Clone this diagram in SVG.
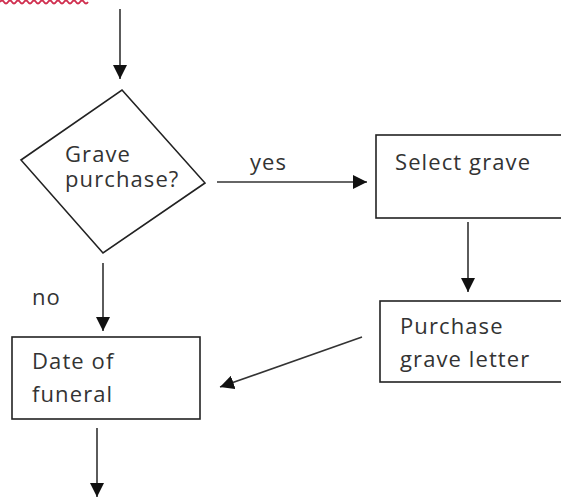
<svg xmlns="http://www.w3.org/2000/svg" width="561" height="497" viewBox="0 0 561 497">
<defs>
<style>
.shape{fill:#fff;stroke:#222;stroke-width:1.6}
.conn{stroke:#333;stroke-width:1.6;fill:none}
.t{font-family:"Open Sans","DejaVu Sans",sans-serif;font-size:22px;letter-spacing:1.1px;fill:#333}
</style>
<marker id="ah" markerUnits="userSpaceOnUse" markerWidth="14" markerHeight="14" viewBox="0 0 14 14" refX="14" refY="7" orient="auto">
<path d="M0,0 L14,7 L0,14 Z" fill="#111"/>
</marker>
</defs>
<rect width="561" height="497" fill="#fff"/>
<path d="M0,2 q2,-3 4,0 t4,0 t4,0 t4,0 t4,0 t4,0 t4,0 t4,0 t4,0 t4,0 t4,0 t4,0 t4,0 t4,0 t4,0 t4,0 t4,0 t4,0 t4,0 t4,0 t4,0 t4,0" fill="none" stroke="#d03050" stroke-width="1.8"/>
<g id="connectors">
<line class="conn" x1="120" y1="9" x2="120" y2="79" marker-end="url(#ah)"/>
<line class="conn" x1="217" y1="182" x2="367" y2="182" marker-end="url(#ah)"/>
<line class="conn" x1="468" y1="222" x2="468" y2="292" marker-end="url(#ah)"/>
<line class="conn" x1="103" y1="263" x2="103" y2="331" marker-end="url(#ah)"/>
<line class="conn" x1="362" y1="337" x2="220" y2="387" marker-end="url(#ah)"/>
<line class="conn" x1="97" y1="428" x2="97" y2="497" marker-end="url(#ah)"/>
<text class="t" x="250" y="170">yes</text>
<text class="t" x="32" y="305">no</text>
</g>
<g id="decision">
<polygon class="shape" points="122,90 205,183 103,253 21,160"/>
<text class="t" x="65" y="162">Grave</text>
<text class="t" x="65" y="187">purchase?</text>
</g>
<g id="select-grave">
<rect class="shape" x="376" y="135" width="200" height="83"/>
<text class="t" x="395" y="170">Select grave</text>
</g>
<g id="purchase-letter">
<rect class="shape" x="380" y="301" width="200" height="81"/>
<text class="t" x="400" y="334">Purchase</text>
<text class="t" x="400" y="367">grave letter</text>
</g>
<g id="date-funeral">
<rect class="shape" x="12" y="337" width="188" height="82"/>
<text class="t" x="32" y="369">Date of</text>
<text class="t" x="32" y="402">funeral</text>
</g>
</svg>
